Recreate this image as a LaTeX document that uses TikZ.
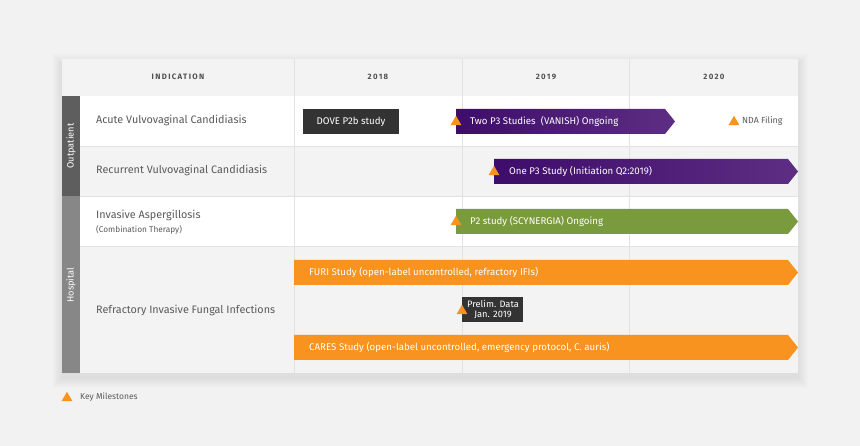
\documentclass[tikz,border=0pt]{standalone}
\usepackage{fontspec}
\setmainfont{Fira Sans}
\usetikzlibrary{shapes.geometric}
\definecolor{pagebg}{HTML}{F2F2F2}
\definecolor{rowgray}{HTML}{F3F3F3}
\definecolor{gridline}{HTML}{E2E2E2}
\definecolor{txtgray}{HTML}{5A5A5A}
\definecolor{outbar}{HTML}{5E5E5E}
\definecolor{hospbar}{HTML}{878787}
\definecolor{darkbox}{HTML}{333333}
\definecolor{purpA}{HTML}{3E0C6A}
\definecolor{purpB}{HTML}{5D2E83}
\definecolor{studygreen}{HTML}{7A9A3E}
\definecolor{studyorange}{HTML}{F7931E}

\begin{document}
\begin{tikzpicture}
[x=1pt,y=-1pt
,hdr/.style={font=\fontsize{7.8}{9}\selectfont\bfseries\addfontfeatures{LetterSpace=17},text=txtgray!90!black}
,ind/.style={anchor=west,font=\fontsize{10.8}{12}\selectfont,text=txtgray,inner sep=0}
,sub/.style={anchor=west,font=\fontsize{8.3}{9}\selectfont,text=txtgray,inner sep=0}
,side/.style={rotate=90,font=\fontsize{9.2}{10}\selectfont,text=white}
,bartxt/.style={anchor=west,font=\fontsize{9.7}{11}\selectfont,text=white,inner sep=0}
,ms/.style={regular polygon,regular polygon sides=3,fill=studyorange,inner sep=0,minimum size=12.5pt}
,grid/.style={draw=gridline,line width=0.8pt}]
\fill[pagebg] (0,0) rectangle (860,446);
\useasboundingbox (0,0) rectangle (860,446);
% card shadow
\foreach \i in {1,...,10}
  \fill[black,opacity=0.008] (62-\i,59-\i+5) rectangle (798+\i,373+\i+5);
% rows
\fill[rowgray] (62,59) rectangle (798,96);
\fill[white] (62,96) rectangle (798,146);
\fill[rowgray] (62,146) rectangle (798,196);
\fill[white] (62,196) rectangle (798,246);
\fill[rowgray] (62,246) rectangle (798,373);
\foreach \y in {146,196,246}
  \draw[grid] (80,\y) -- (798,\y);
\foreach \x in {294,462,629}
  \draw[grid] (\x,59) -- (\x,373);
% side bars
\fill[outbar] (62,96) rectangle (80,196);
\fill[hospbar] (62,196) rectangle (80,373);
\node[side] (outp) at (71,146) {Outpatient};
\node[side] (hosp) at (71,285) {Hospital};
% header
\node[hdr] (hind) at (178,77) {INDICATION};
\node[hdr] (h18) at (378,77) {2018};
\node[hdr] (h19) at (546,77) {2019};
\node[hdr] (h20) at (714,77) {2020};
% indications
\node[ind] (avvc) at (96,120.5) {Acute Vulvovaginal Candidiasis};
\node[ind] (rvvc) at (96,170.5) {Recurrent Vulvovaginal Candidiasis};
\node[ind] (ia) at (96,215) {Invasive Aspergillosis};
\node[sub] (iasub) at (96,230) {(Combination Therapy)};
\node[ind] (rifi) at (96,310) {Refractory Invasive Fungal Infections};
% studies
\fill[darkbox] (303,109) rectangle (399,134);
\node[bartxt,anchor=center] (dove) at (351,121.5) {DOVE P2b study};
\shade[left color=purpA,right color=purpB] (456,109) -- (665,109) -- (675,121.5) -- (665,134) -- (456,134) -- cycle;
\node[bartxt] (vanish) at (470,121.5) {Two P3 Studies\ \ (VANISH) Ongoing};
\shade[left color=purpA,right color=purpB] (494,159) -- (788,159) -- (798,171.5) -- (788,184) -- (494,184) -- cycle;
\node[bartxt] (onep3) at (509,171.5) {One P3 Study (Initiation Q2:2019)};
\fill[studygreen] (456,209) -- (788,209) -- (798,221.5) -- (788,234) -- (456,234) -- cycle;
\node[bartxt] (scyn) at (470,221.5) {P2 study (SCYNERGIA) Ongoing};
\fill[studyorange] (294,260) -- (788,260) -- (798,272.5) -- (788,285) -- (294,285) -- cycle;
\node[bartxt] (furi) at (309,272.5) {FURI Study (open-label uncontrolled, refractory IFIs)};
\fill[studyorange] (294,335) -- (788,335) -- (798,347.5) -- (788,360) -- (294,360) -- cycle;
\node[bartxt] (cares) at (309,347.5) {CARES Study (open-label uncontrolled, emergency protocol, C. auris)};
\fill[darkbox] (462,297) rectangle (523,322);
\node[bartxt,anchor=center,align=center,font=\fontsize{9.3}{10.5}\selectfont] (prelim) at (493,309.5) {Prelim. Data\\Jan. 2019};
% milestones
\node[ms] (m1) at (456,122) {};
\node[ms] (m2) at (494,172) {};
\node[ms] (m3) at (456,222) {};
\node[ms] (m4) at (462,311) {};
\node[ms] (m5) at (734,122) {};
\node[sub,font=\fontsize{8.8}{10}\selectfont] (nda) at (742,121.5) {NDA Filing};
\node[ms] (mkey) at (67,398) {};
\node[sub,font=\fontsize{8.5}{10}\selectfont] (key) at (80,397.5) {Key Milestones};
\end{tikzpicture}
\end{document}
